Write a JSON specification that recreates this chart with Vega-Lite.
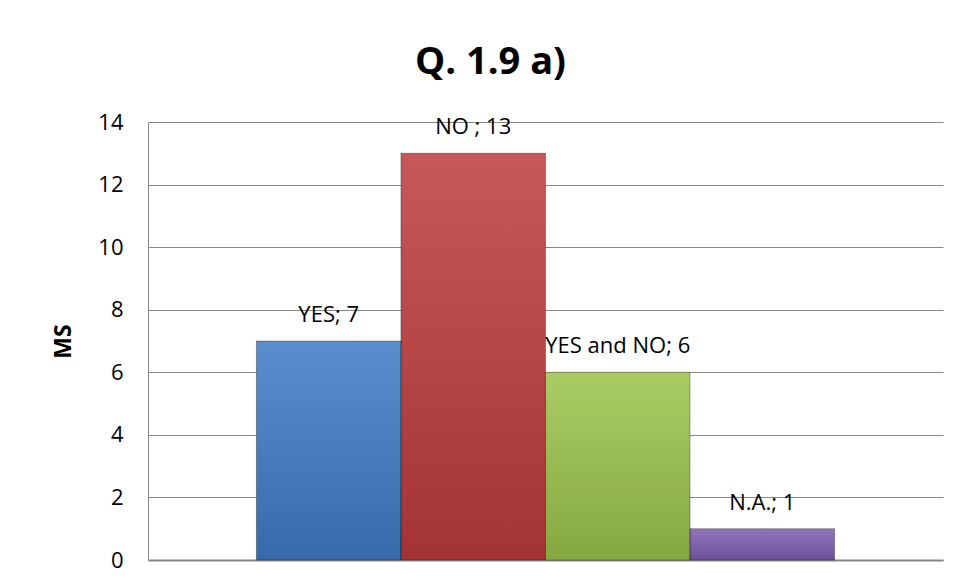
{
  "$schema": "https://vega.github.io/schema/vega-lite/v6.json",
  "width": 795,
  "height": 438,
  "autosize": {"type": "none"},
  "padding": {"left": 148, "top": 122, "right": 17, "bottom": 23},
  "background": "white",
  "title": {
    "text": "Q. 1.9 a)",
    "font": "Open Sans",
    "fontSize": 38,
    "fontWeight": "bold",
    "color": "#000000",
    "anchor": "middle",
    "frame": "group",
    "baseline": "alphabetic",
    "offset": -1,
    "dx": -55
  },
  "data": {
    "values": [
      {"answer": "YES", "count": 7, "label": "YES; 7"},
      {"answer": "NO", "count": 13, "label": "NO ; 13"},
      {"answer": "YES and NO", "count": 6, "label": "YES and NO; 6"},
      {"answer": "N.A.", "count": 1, "label": "N.A.; 1"}
    ]
  },
  "encoding": {
    "x": {
      "field": "answer",
      "type": "nominal",
      "sort": null,
      "scale": {"paddingInner": 0, "paddingOuter": 0.75},
      "axis": {
        "title": null,
        "labels": false,
        "ticks": false,
        "grid": false,
        "domainColor": "#868686",
        "domainWidth": 2
      }
    },
    "y": {
      "field": "count",
      "type": "quantitative",
      "scale": {"domain": [0, 14], "nice": false},
      "axis": {
        "title": "MS",
        "titleFont": "Open Sans",
        "titleFontSize": 23,
        "titleFontWeight": "bold",
        "titleColor": "#000000",
        "titlePadding": 22,
        "values": [0, 2, 4, 6, 8, 10, 12, 14],
        "labelFont": "Open Sans",
        "labelFontSize": 22,
        "labelColor": "#000000",
        "labelPadding": 25,
        "ticks": false,
        "grid": true,
        "gridColor": "#868686",
        "gridWidth": 1,
        "domainColor": "#868686",
        "domainWidth": 1
      }
    }
  },
  "layer": [
    {
      "mark": {"type": "bar"},
      "encoding": {
        "color": {
          "field": "answer",
          "type": "nominal",
          "sort": null,
          "scale": {
            "domain": ["YES", "NO", "YES and NO", "N.A."],
            "range": ["#3f7bc6", "#bf3c3c", "#9bc44c", "#7e5eb2"]
          },
          "legend": null
        }
      }
    },
    {
      "mark": {
        "type": "bar",
        "fill": {
          "gradient": "linear",
          "x1": 0, "y1": 0, "x2": 0, "y2": 1,
          "stops": [
            {"offset": 0, "color": "rgba(255,255,255,0.14)"},
            {"offset": 1, "color": "rgba(0,0,0,0.14)"}
          ]
        },
        "stroke": "rgba(0,0,0,0.3)",
        "strokeWidth": 1
      }
    },
    {
      "mark": {
        "type": "text",
        "font": "Open Sans",
        "fontSize": 22,
        "color": "#000000",
        "baseline": "alphabetic",
        "align": "center",
        "dy": -19
      },
      "encoding": {
        "text": {"field": "label"}
      }
    }
  ],
  "config": {
    "view": {"stroke": null}
  }
}
